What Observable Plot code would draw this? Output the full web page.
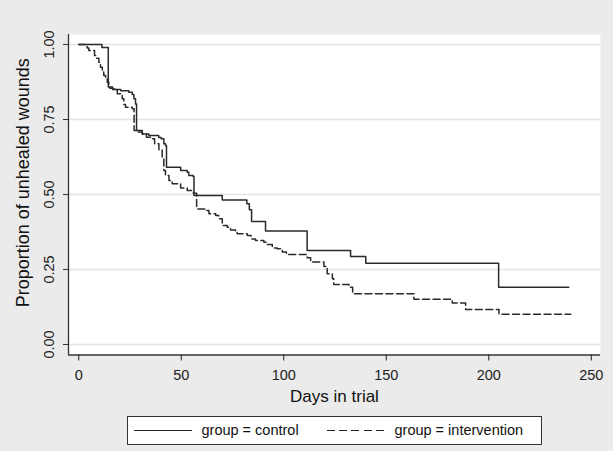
<!DOCTYPE html>
<html>
<head>
<meta charset="utf-8">
<script src="https://cdn.jsdelivr.net/npm/d3@7"></script>
<script src="https://cdn.jsdelivr.net/npm/@observablehq/plot@0.6"></script>
<style>
  html, body { margin: 0; padding: 0; background: #ebebeb; }
  #wrap { position: relative; width: 613px; height: 451px; background: #ebebeb; font-family: "Liberation Sans", Arial, Helvetica, sans-serif; }
  #legend { position: absolute; left: 127px; top: 415.5px; width: 413px; height: 27px; border: 1px solid #333; background: #fff; }
  .lg-line { position: absolute; top: 13px; height: 0; }
  .lg-text { position: absolute; top: 0; line-height: 27px; font-size: 14.5px; color: #111; white-space: nowrap; }
</style>
</head>
<body>
<div id="wrap">
  <div id="chart"></div>
  <div id="legend">
    <div class="lg-line" style="left:6px; width:58px; border-top:1.3px solid #222;"></div>
    <div class="lg-text" style="left:73.5px;">group = control</div>
    <div class="lg-line" style="left:199px; width:58px; height:1.3px; background: repeating-linear-gradient(to right, #222 0 8px, transparent 8px 12.2px);"></div>
    <div class="lg-text" style="left:266.5px;">group = intervention</div>
  </div>
</div>
<script>
const xTicks = [0, 50, 100, 150, 200, 250];
const yTicks = [0, 0.25, 0.5, 0.75, 1];
const yTickLabels = ["0.00", "0.25", "0.50", "0.75", "1.00"];
const xTitle = "Days in trial";
const yTitle = "Proportion of unhealed wounds";
const seriesNames = ["group = control", "group = intervention"];

const controlDay = [0, 11.3, 14.4, 15.2, 16.5, 20.5, 24.4, 26.1, 26.9, 27.7,
  28.2, 31, 34.2, 39, 40.2, 41.5, 42.3, 42.8, 49.7, 52.9,
  53.7, 55.8, 56.2, 70, 82, 83.2, 84.3, 91.1, 111.4, 132.6,
  140, 204.8, 239];
const controlProp = [1, 0.99, 0.858, 0.854, 0.85, 0.846, 0.841, 0.833, 0.819, 0.802,
  0.713, 0.702, 0.697, 0.69, 0.686, 0.669, 0.663, 0.591, 0.58, 0.574,
  0.563, 0.56, 0.497, 0.482, 0.469, 0.449, 0.41, 0.378, 0.313, 0.293,
  0.271, 0.191, 0.191];

const interventionDay = [0, 4.1, 4.9, 7.7, 8.7, 9.8, 10.6, 11.5, 12.2, 13.1,
  13.9, 14.7, 16.5, 18, 18.8, 20.4, 21.2, 22, 22.8, 26.1,
  27, 29, 31, 33, 35, 37, 39.1, 40.7, 41.5, 42.3,
  44, 45.6, 49.7, 52.9, 55.9, 57.5, 61.9, 63.5, 66.8, 68.3,
  70, 72.4, 74, 76.5, 77.3, 82.2, 84, 86.2, 90.3, 92,
  94.4, 96.8, 99.3, 101.3, 111.4, 113.1, 119.6, 121.2, 123.7, 124.4,
  131.8, 133.6, 163.5, 182.2, 188.7, 205, 240];
const interventionProp = [1, 0.988, 0.98, 0.963, 0.954, 0.941, 0.924, 0.908, 0.897, 0.891,
  0.874, 0.858, 0.852, 0.847, 0.836, 0.83, 0.819, 0.8, 0.791, 0.786,
  0.713, 0.708, 0.702, 0.691, 0.686, 0.669, 0.649, 0.624, 0.58, 0.563,
  0.547, 0.536, 0.522, 0.513, 0.504, 0.452, 0.447, 0.436, 0.43, 0.419,
  0.397, 0.391, 0.382, 0.374, 0.369, 0.363, 0.352, 0.347, 0.341, 0.333,
  0.322, 0.319, 0.308, 0.3, 0.289, 0.275, 0.26, 0.236, 0.219, 0.2,
  0.191, 0.169, 0.151, 0.138, 0.117, 0.101, 0.101];

const control = controlDay.map((d, i) => ({day: d, prop: controlProp[i], group: seriesNames[0]}));
const intervention = interventionDay.map((d, i) => ({day: d, prop: interventionProp[i], group: seriesNames[1]}));

const xMin = -5, xMax = 254.5, yMin = -0.035, yMax = 1.0333;

const chart = Plot.plot({
  width: 613,
  height: 412,
  marginLeft: 68,
  marginRight: 13,
  marginTop: 34,
  marginBottom: 57.5,
  x: {domain: [xMin, xMax]},
  y: {domain: [yMin, yMax]},
  style: {background: "transparent", fontFamily: "'Liberation Sans', Arial, Helvetica, sans-serif", fontSize: "14px", color: "#333"},
  marks: [
    Plot.frame({fill: "white", stroke: "none"}),
    Plot.ruleY(yTicks, {stroke: "#e4e4e4", strokeWidth: 1.5}),
    Plot.line(control, {x: "day", y: "prop", curve: "step-after", stroke: "#2a2a2a", strokeWidth: 1.5}),
    Plot.line(intervention, {x: "day", y: "prop", curve: "step-after", stroke: "#2a2a2a", strokeWidth: 1.5, strokeDasharray: "7,3.5"}),
    Plot.ruleX([xMin], {stroke: "#333", strokeWidth: 1.3}),
    Plot.ruleY([yMin], {stroke: "#333", strokeWidth: 1.3}),
    Plot.axisX({ticks: xTicks, tickSize: 6, tickPadding: 9, label: null, fontSize: 14.5, color: "#222"}),
    Plot.axisY({ticks: yTicks, tickSize: 5, tickFormat: () => "", label: null}),
    Plot.text(yTicks, {frameAnchor: "left", y: d => d, text: (d, i) => yTickLabels[i], rotate: -90, textAnchor: "middle", lineAnchor: "middle", dx: -19, fontSize: 14.5, fill: "#222"}),
    Plot.text([xTitle], {frameAnchor: "bottom", text: d => d, textAnchor: "middle", dy: 47, fontSize: 17, fill: "#111"}),
    Plot.text([yTitle], {frameAnchor: "left", text: d => d, rotate: -90, textAnchor: "middle", lineAnchor: "middle", dx: -45.5, dy: -12, fontSize: 18, fill: "#111"})
  ]
});
document.getElementById("chart").appendChild(chart);
</script>
</body>
</html>
